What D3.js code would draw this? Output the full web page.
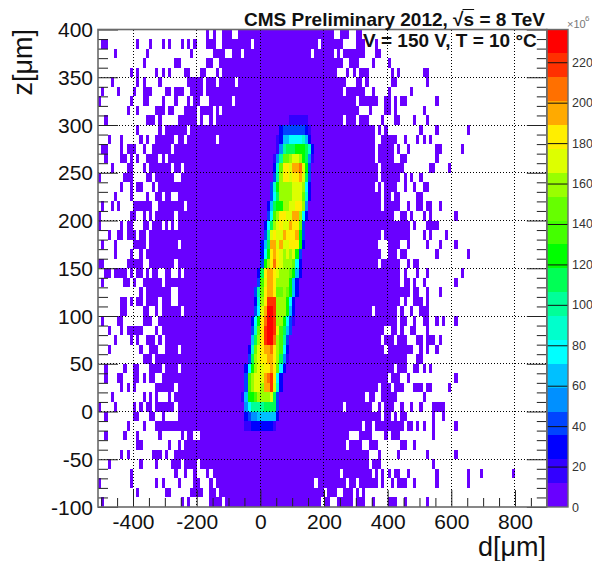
<!DOCTYPE html>
<html><head><meta charset="utf-8">
<script src="https://cdn.jsdelivr.net/npm/d3@7"></script>
<style>html,body{margin:0;padding:0;background:#fff}svg{display:block}text{font-family:"Liberation Sans",Arial,sans-serif}</style>
</head><body><svg id="c" width="592" height="561"></svg>
<script>
// 10 um bins: rows run from z = 400 downwards, columns from d = -510 rightwards
const binSize = 10, dMin = -510, dMax = 900, zMin = -100, zMax = 400;
// filled (lowest colour band) bins per row
const occupiedBins = [
"34 36 39-41 44-73 76-78 81-82",
"1-2 12 16 20 22 26 28 30 34-36 39-47 49-68 70-76 81-83 87",
"5 15 29 36-39 42-44 46-66 68-73 75 77-83 87-88",
"14 24-25 34-35 38-76 79-81 86 91",
"10 12 18 20 22 27-28 32-33 37 39-74 78 80 82-84 92 94 102-103",
"4 12 14 19 28-32 34-36 38-42 44-77 81-82 84 92-93 103",
"1 6 11 14-16 21-22 24-26 29-32 34-76 78-83 86 91 98",
"0 10 14-15 20 24 28 30-31 35-41 43-80 82-87 90-91 93 95-96 106",
"9 12 18-20 22-23 27-30 32-35 37 39-81 85 90-91 93 102",
"2 15-17 19 25-30 32 35 37-76 78-80 82-84 89 93-94 99 103",
"12 19 21-27 29-86 88 90 101 106 116",
"3 7 13 15 18-23 25-26 28-36 38-86 89-93 96 100 102 104",
"1-2 7 9-11 14 17-22 24-86 88-92 94 97 106-107 114",
"2 7-8 10 12 15-18 20 22-86 88-92 95-96 106",
"4 9-10 14 16-22 24-25 27-87 89-95 104-105 110",
"0 8-10 15-16 18-23 26-87 89-94 96 98 101",
"7 10 12-13 17 19-86 88 90-93 96 99 102-103",
"5 10 15 18-19 21-22 25-88 90-91 93-94 100-101",
"1 4 6 11-16 19-26 28-88 90-94 97 100-101 103-104 107",
"0 10-11 14 16 18-23 25-92 95-96 98 102 104 112",
"0 7 9-10 14-15 17-19 21 23 25-97 99 103-106",
"3 6-7 9-11 13-14 16-88 90-97 102 104 109",
"1 5 11-14 16-24 26-87 91-94 97 103 107 112",
"5 10 13 15-88 91-93 95-96 106 116",
"0-1 9-13 16-23 25-87 89-94 97 99-100",
"2-3 5-8 10 12-13 15 17-18 21-22 25 27-94 96 100 103 114",
"1 8-9 11 14-19 21-94 96-97 99 102 112",
"13 15-22 25-97 99-100 103 107",
"7-8 10 12-13 15-18 20-22 25-94 96 99-101 103",
"7-8 14-15 18 20-25 27-85 87-93 95 98 101-103",
"1 6-7 14-16 19-93 95-96 99 102-103 106 108 112",
"3 7 9-13 18 20-89 92-93 95 98-99 103",
"5 10 12 15-17 19 21-88 90-92 94-96 100-101 103-105 107",
"3 13 16-18 21-24 26-89 91-98 101 103 106",
"14-16 18-96 100-101",
"2 8 11-12 16-19 21-24 26-92 94-96 99-100 102 104",
"2 6-7 11-12 14 16-17 20-90 92-94 97 112",
"7 9 11 18-23 25-87 89-91 93-95 99-101 103-104 110",
"4 14 16 18 22 24-83 85-86 89-93 102",
"0 5 11 13 15-16 18-23 25-76 78-85 88 90-92 95 98 101 105-108",
"2 11-12 16-17 20 25-88 90-91 93 95-96 105 108",
"9 14 18-82 84-85 87-95 97-98 100 102 105 112",
"2 8 12 19 26 28-29 32-78 82-85 90 92-94 105",
"12-13 22 25 27-77 79-82 85-87 95-96 99",
"7 9 17-19 21 24-84 88 94 103 112",
"3 13 18 23-25 27-30 32-84 86-88 105",
"10 24 27 30 34 36-75 77-85 87 89 91 93-94 97 106 116 120 130",
"0 10 18 20 25 30-31 35 37-67 69-77 79-80 82-87 89 92 94-96 99 106 116",
"12 21-22 29-32 35-36 38-70 72-74 77-79 81 83",
"1 26 28 35-38 40-69 71-72 75-79 81-83 86 91-93 96 103"
];
// first column of the hot core in rows 9..41
const coreRowFirst = 9;
const coreStart = [60,57,56,56,55,55,55,54,54,53,53,52,52,51,51,51,50,50,49,49,49,48,48,48,47,47,46,46,46,45,46,46,46];
// core intensity (in units of 1e6), left to right
const coreValues = [
[18,18,18,18,18,18],
[30,41,41,41,41,41,41,41,30,18],
[18,30,65,65,77,77,77,77,89,65,30],
[18,53,100,112,112,112,124,124,124,112,89,30],
[18,53,100,148,148,159,171,171,159,124,112,53,18],
[30,89,148,183,183,171,195,195,207,171,124,41],
[41,100,159,183,183,171,183,183,195,171,112,41],
[41,89,124,159,159,159,159,171,171,171,159,77,30],
[41,77,112,159,159,159,159,171,171,171,148,89,30],
[30,65,112,124,124,159,159,171,171,183,183,159,53],
[41,77,136,159,183,183,171,171,195,195,159,77,30],
[30,77,112,159,171,183,171,171,195,183,183,148,41],
[41,100,171,183,171,171,195,183,183,183,195,124,41],
[30,65,112,195,195,171,195,171,171,183,183,183,124,30],
[30,77,124,183,195,183,171,159,171,159,171,124,41],
[41,124,159,183,207,183,171,159,159,159,148,77,30],
[30,112,183,195,195,183,171,159,159,159,148,124,65,30],
[41,136,171,195,195,183,159,159,159,159,124,65,30],
[41,100,148,183,195,195,183,148,148,159,148,124,65,30],
[30,89,159,183,219,219,219,159,159,159,124,77,30],
[41,77,171,195,230,230,219,159,159,159,124,65,30],
[30,77,124,183,207,230,230,219,159,159,124,77,41,18],
[41,89,148,183,219,230,230,219,171,136,112,65,41],
[65,112,159,183,219,230,230,207,159,136,100,41],
[30,89,148,171,183,195,195,207,183,159,136,77,30],
[41,112,159,171,183,183,195,195,183,159,112,53,18],
[30,77,124,159,171,171,183,183,195,183,148,77,30],
[41,136,159,171,171,171,195,207,219,183,77,30],
[41,136,159,171,171,159,195,195,219,171,89,30],
[18,65,124,124,136,159,159,159,159,171,112,41],
[53,77,100,100,100,100,112,112,112,112,41],
[30,41,53,53,65,65,65,65,65,65,30],
[18,18,30,30,30,30,30,30,30,18]
];
const lowValue = 6;
const xTicks = [-400,-200,0,200,400,600,800];
const zTicks = [-100,-50,0,50,100,150,200,250,300,350,400];
const xMinor = d3.range(-500,900,50).filter(v=>v%200!==0);
const zMinor = d3.range(-100,401,10).filter(v=>v%50!==0);
const paletteTicks = [0,20,40,60,80,100,120,140,160,180,200,220];
const paletteMax = 236.2;
const paletteColors = ["#6900ff","#3300ff","#0000ff","#0044ff","#0090ff","#00c0ff","#00ffff","#00ffcc","#00ff99","#00ff55","#00ff00","#44ff00","#66ff00","#99ff00","#ddff00","#ffee00","#ffaa00","#ff7000","#ff3000","#ff0000"];

const svg = d3.select("#c");
const L=98,R=546.8,T=29.5,B=507, PL=546.8,PR=568;
const x = d3.scaleLinear().domain([dMin,dMax]).range([L,R]);
const y = d3.scaleLinear().domain([zMin,zMax]).range([B,T]);
const py = d3.scaleLinear().domain([0,paletteMax]).range([B,T]);
const colour = d3.scaleQuantize().domain([0,paletteMax]).range(paletteColors);

const cells = new Map();
occupiedBins.forEach((s,r)=>s.split(" ").forEach(tok=>{
  const [a,b] = tok.split("-").map(Number);
  for(let c=a;c<=(b===undefined?a:b);c++) cells.set(r+"_"+c,{r,c,v:lowValue});
}));
coreValues.forEach((vals,i)=>vals.forEach((v,j)=>{
  const r=coreRowFirst+i,c=coreStart[i]+j;
  cells.set(r+"_"+c,{r,c,v});
}));
svg.append("g").attr("shape-rendering","crispEdges").selectAll("rect").data([...cells.values()]).join("rect")
  .attr("x",d=>x(dMin+d.c*binSize))
  .attr("width",d=>x(dMin+(d.c+1)*binSize)-x(dMin+d.c*binSize))
  .attr("y",d=>y(zMax-d.r*binSize))
  .attr("height",d=>y(zMax-(d.r+1)*binSize)-y(zMax-d.r*binSize))
  .attr("fill",d=>colour(d.v));

// grid
const grid = svg.append("g").attr("stroke","#000").attr("stroke-width",1).attr("stroke-dasharray","1,2").attr("shape-rendering","crispEdges");
grid.selectAll(".gx").data(xTicks).join("line").attr("class","gx").attr("x1",d=>x(d)).attr("x2",d=>x(d)).attr("y1",T).attr("y2",B);
grid.selectAll(".gy").data(zTicks.slice(1,-1)).join("line").attr("class","gy").attr("x1",L).attr("x2",R).attr("y1",d=>y(d)).attr("y2",d=>y(d));

function styleAxis(g){ g.select(".domain").remove(); g.selectAll("line").attr("stroke","#222").attr("stroke-width",1); }
// bottom axis
svg.append("g").attr("transform",`translate(0,${B})`).call(d3.axisTop(x).tickValues(xMinor).tickSize(9).tickFormat("")).call(styleAxis);
svg.append("g").attr("transform",`translate(0,${B})`)
  .call(d3.axisTop(x).tickValues(xTicks).tickSize(17).tickFormat(d3.format("d"))).call(styleAxis)
  .call(g=>g.selectAll("text").attr("y",22).attr("dy",0).attr("font-size",21).attr("fill","#111").attr("text-anchor","middle").attr("font-family","Liberation Sans").text(d=>d));
// left axis
svg.append("g").attr("transform",`translate(${L},0)`).call(d3.axisRight(y).tickValues(zMinor).tickSize(10).tickFormat("")).call(styleAxis);
svg.append("g").attr("transform",`translate(${L},0)`)
  .call(d3.axisRight(y).tickValues(zTicks).tickSize(20).tickFormat(d3.format("d"))).call(styleAxis)
  .call(g=>g.selectAll("text").attr("x",-5).attr("dy","0.34em").attr("font-size",21).attr("fill","#111").attr("text-anchor","end").attr("font-family","Liberation Sans").text(d=>d));
// right side ticks
svg.append("g").attr("transform",`translate(${R},0)`).call(d3.axisLeft(y).tickValues(zMinor).tickSize(10).tickFormat("")).call(styleAxis);
svg.append("g").attr("transform",`translate(${R},0)`).call(d3.axisLeft(y).tickValues(zTicks).tickSize(20).tickFormat("")).call(styleAxis);

// palette
const bandH = paletteMax/paletteColors.length;
svg.append("g").attr("shape-rendering","crispEdges").selectAll("rect").data(paletteColors).join("rect")
  .attr("x",PL).attr("width",PR-PL)
  .attr("y",(d,i)=>py((i+1)*bandH)).attr("height",(d,i)=>py(i*bandH)-py((i+1)*bandH))
  .attr("fill",d=>d);
svg.append("g").attr("transform",`translate(${PR},0)`)
  .call(d3.axisLeft(py).tickValues(paletteTicks.slice(1)).tickSize(PR-PL).tickFormat(""))
  .call(styleAxis).call(g=>g.selectAll("line").attr("stroke","#111"));
svg.append("g").selectAll("text").data(paletteTicks).join("text")
  .attr("x",572).attr("y",d=>py(d)+4.5).attr("font-size",12.5).attr("fill","#333").text(d=>d);
svg.append("text").attr("x",567).attr("y",28).attr("font-size",11).attr("fill","#777").text("×10");
svg.append("text").attr("x",585).attr("y",21).attr("font-size",8).attr("fill","#777").text("6");

// frames
svg.append("rect").attr("x",L).attr("y",T).attr("width",R-L).attr("height",B-T).attr("fill","none").attr("stroke","#6a6a6a").attr("stroke-width",1.6);
svg.append("rect").attr("x",PL).attr("y",T).attr("width",PR-PL).attr("height",B-T).attr("fill","none").attr("stroke","#6a6a6a").attr("stroke-width",1.4);

// axis titles
const um = "[\u03BCm]";
svg.append("text").attr("x",546).attr("y",556).attr("text-anchor","end").attr("font-size",27).attr("fill","#111").text("d"+um);
svg.append("text").attr("transform","translate(32,29) rotate(-90)").attr("text-anchor","end").attr("font-size",27).attr("fill","#111").text("z"+um);

// header text
const headerOne = "CMS Preliminary 2012, \u221As = 8 TeV";
const h1 = svg.append("text").attr("x",244).attr("y",26).attr("font-size",19).attr("font-weight","bold").attr("fill","#111").text(headerOne);
const rootIdx = headerOne.indexOf("\u221A");
const barX = 244 + h1.node().getSubStringLength(0,rootIdx+1) - 1;
const barW = h1.node().getSubStringLength(rootIdx+1,1) + 1;
svg.append("line").attr("x1",barX).attr("x2",barX+barW).attr("y1",9.5).attr("y2",9.5).attr("stroke","#111").attr("stroke-width",1);
svg.append("text").attr("x",363).attr("y",47).attr("font-size",19).attr("font-weight","bold").attr("fill","#111").text("V = 150 V, T = 10 \u00B0C");
</script></body></html>
